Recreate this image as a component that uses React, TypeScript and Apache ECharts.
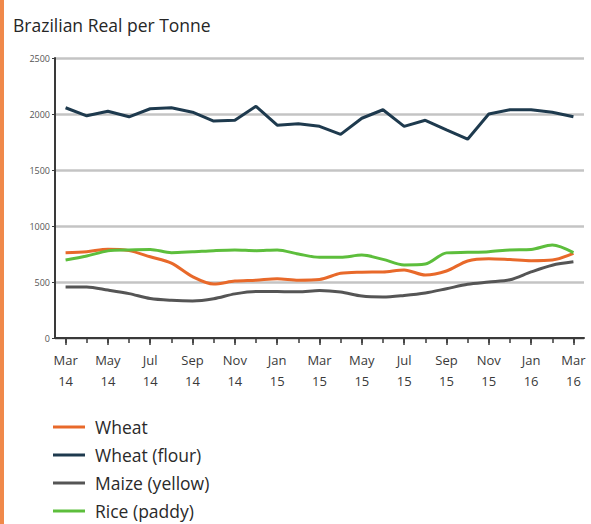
import React, { useEffect, useRef } from "react";
import * as echarts from "echarts";

const months = [
  "Mar 14", "Apr 14", "May 14", "Jun 14", "Jul 14", "Aug 14", "Sep 14", "Oct 14", "Nov 14", "Dec 14",
  "Jan 15", "Feb 15", "Mar 15", "Apr 15", "May 15", "Jun 15", "Jul 15", "Aug 15", "Sep 15", "Oct 15",
  "Nov 15", "Dec 15", "Jan 16", "Feb 16", "Mar 16",
];

const wheat = [762, 771, 792, 780, 725, 668, 548, 482, 508, 516, 530, 516, 522, 578, 588, 590, 608, 562, 598, 688, 708, 700, 690, 696, 756];
const wheatFlour = [2056, 1984, 2025, 1975, 2047, 2056, 2016, 1937, 1944, 2069, 1900, 1912, 1890, 1818, 1962, 2038, 1890, 1944, 1859, 1775, 2000, 2038, 2038, 2016, 1975];
const maize = [456, 456, 428, 396, 352, 336, 330, 350, 394, 416, 416, 412, 424, 410, 374, 366, 380, 402, 440, 480, 500, 520, 590, 650, 680];
const rice = [696, 732, 778, 786, 790, 762, 770, 780, 786, 780, 786, 750, 720, 720, 740, 702, 652, 660, 760, 765, 771, 786, 790, 830, 762];

const yTicks = [0, 500, 1000, 1500, 2000, 2500];

const FONT = "Open Sans";

export default function App() {
  const ref = useRef<HTMLDivElement>(null);
  useEffect(() => {
    if (!ref.current) return;
    const chart = echarts.init(ref.current, null, { renderer: "svg" });
    const catAxisBase = {
      type: "category" as const,
      data: months,
      boundaryGap: true,
      position: "bottom" as const,
    };
    chart.setOption({
      animation: false,
      backgroundColor: "#ffffff",
      textStyle: { fontFamily: FONT },
      graphic: [
        { type: "rect", shape: { x: 0, y: 0, width: 4, height: 524 }, style: { fill: "#F0894A" } },
        {
          type: "text",
          left: 13,
          top: 16,
          style: { text: "Brazilian Real per Tonne", fill: "#262626", font: `17.5px '${FONT}'` },
        },
      ],
      grid: { left: 55, right: 7, top: 58, bottom: 186, containLabel: false },
      legend: {
        orient: "vertical",
        left: 53,
        top: 418,
        padding: 0,
        height: 110,
        itemWidth: 32,
        itemHeight: 3,
        itemGap: 10,
        icon: "rect",
        data: ["Wheat", "Wheat (flour)", "Maize (yellow)", "Rice (paddy)"],
        textStyle: { fontSize: 17.5, color: "#2a2a2a", fontFamily: FONT, padding: [0, 0, 0, 5] },
      },
      xAxis: [
        {
          ...catAxisBase,
          axisLine: { show: true, lineStyle: { color: "#3a3a3a", width: 2 } },
          axisTick: { show: true, interval: 0, alignWithLabel: true, length: 5, lineStyle: { color: "#3a3a3a", width: 1.5 } },
          axisLabel: {
            interval: 1,
            color: "#3a3a3a",
            fontSize: 13,
            lineHeight: 21,
            margin: 11,
            fontFamily: FONT,
            formatter: (v: string) => v.replace(" ", "\n"),
          },
          splitLine: { show: false },
        },
        {
          ...catAxisBase,
          axisLine: { show: false },
          axisTick: { show: true, interval: 1, alignWithLabel: true, length: 7, lineStyle: { color: "#3a3a3a", width: 1.5 } },
          axisLabel: { show: false },
          splitLine: { show: false },
        },
      ],
      yAxis: {
        type: "value",
        min: yTicks[0],
        max: yTicks[yTicks.length - 1],
        interval: 500,
        axisLine: { show: true, lineStyle: { color: "#3a3a3a", width: 2 } },
        axisTick: { show: true, length: 3, lineStyle: { color: "#3a3a3a" } },
        axisLabel: { fontSize: 9, color: "#555", margin: 5, fontFamily: FONT, formatter: (v: number) => String(v) },
        splitLine: { show: true, lineStyle: { color: "#c4c4c4", width: 2.5 } },
      },
      series: [
        {
          name: "Maize (yellow)",
          type: "line",
          data: maize,
          smooth: 0.3,
          showSymbol: false,
          lineStyle: { color: "#555555", width: 3 },
          itemStyle: { color: "#555555" },
        },
        {
          name: "Wheat",
          type: "line",
          data: wheat,
          smooth: 0.3,
          showSymbol: false,
          lineStyle: { color: "#E8692A", width: 3 },
          itemStyle: { color: "#E8692A" },
        },
        {
          name: "Rice (paddy)",
          type: "line",
          data: rice,
          smooth: 0.3,
          showSymbol: false,
          lineStyle: { color: "#5DBE3C", width: 3 },
          itemStyle: { color: "#5DBE3C" },
        },
        {
          name: "Wheat (flour)",
          type: "line",
          data: wheatFlour,
          smooth: false,
          showSymbol: false,
          lineStyle: { color: "#1E3A4E", width: 3 },
          itemStyle: { color: "#1E3A4E" },
        },
      ],
    });
    return () => chart.dispose();
  }, []);
  return (
    <div
      ref={ref}
      style={{ position: "absolute", left: 0, top: 0, width: 591, height: 524, background: "#fff" }}
    />
  );
}
